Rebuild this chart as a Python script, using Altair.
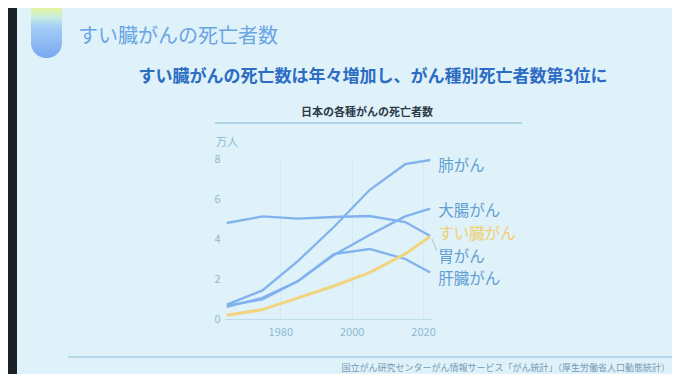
import altair as alt
import pandas as pd

# ---- data (万人) ----
years = [1965, 1975, 1985, 1995, 2005, 2015, 2022]
lung = [0.72, 1.43, 2.91, 4.6, 6.45, 7.74, 7.95]
stomach = [4.8, 5.13, 5.02, 5.1, 5.15, 4.85, 4.15]
colorectal = [0.6, 1.06, 1.9, 3.2, 4.2, 5.13, 5.52]
liver = [0.68, 0.98, 1.9, 3.25, 3.5, 3.0, 2.32]
pancreas = [0.19, 0.47, 1.06, 1.65, 2.32, 3.25, 4.12]

series_names = ["肺がん", "大腸がん", "すい臓がん", "胃がん", "肝臓がん"]
series_values = [lung, colorectal, pancreas, stomach, liver]
label_values = [7.65, 5.4, 4.25, 3.1, 2.0]

x_ticks = [1980, 2000, 2020]
y_ticks = [0, 2, 4, 6, 8]

title_text = "すい臓がんの死亡者数"
subtitle_text = "すい臓がんの死亡数は年々増加し、がん種別死亡者数第3位に"
chart_title_text = "日本の各種がんの死亡者数"
unit_text = "万人"
source_text = "国立がん研究センターがん情報サービス「がん統計」（厚生労働省人口動態統計）"

rows = []
for name, vals in zip(series_names, series_values):
    for yr, v in zip(years, vals):
        rows.append({"name": name, "year": yr, "value": v})
df = pd.DataFrame(rows)
labels_df = pd.DataFrame({"name": series_names, "year": [years[-1]] * 5, "value": label_values})
dummy = pd.DataFrame({"a": [0]})

# ---- layout (page pixel coordinates) ----
OX, OY = 225, 159
W, H = 207, 160
CW, CH = 664, 366


def px(x):
    return x - OX


def py(y):
    return y - OY


FONT = "Noto Sans CJK JP"
BLUE = "#80b3ee"
YELLOW = "#f3d47e"
LABEL_BLUE = "#5f9fd2"
BG = "#dff1f9"
AXIS_LABEL = "#8dbad3"

colors = [BLUE, BLUE, YELLOW, BLUE, BLUE]
label_colors = [LABEL_BLUE, LABEL_BLUE, "#f1cf6c", LABEL_BLUE, LABEL_BLUE]

xscale = alt.Scale(domain=[1964.5, 2022.5], nice=False, zero=False)
yscale = alt.Scale(domain=[0, 8], nice=False)

xaxis = alt.Axis(values=x_ticks, format="d", title=None, ticks=False, labelPadding=7,
                 labelFontSize=11, labelColor=AXIS_LABEL, labelFont=FONT, labelFlush=False,
                 labelOverlap=False,
                 domainColor="#bcdbeb", domainWidth=1, grid=True, gridColor="#d3eaf5",
                 gridWidth=1)
yaxis = alt.Axis(values=y_ticks, title=None, ticks=False, domain=False, grid=False,
                 labelPadding=5, labelFontSize=11, labelColor=AXIS_LABEL, labelFont=FONT,
                 labelOverlap=False, labelFlush=False)

# ---- decorations ----
strip = alt.Chart(dummy).mark_rect(color="#1c2226").encode(
    x=alt.value(px(8)), x2=alt.value(px(17)), y=alt.value(py(8)), y2=alt.value(py(374)))

pill = alt.Chart(dummy).mark_rect(
    cornerRadius=15,
    color=alt.Gradient(gradient="linear", x1=0, x2=0, y1=0, y2=1, stops=[
        alt.GradientStop(color="#e8f6a0", offset=0),
        alt.GradientStop(color="#e0f4a8", offset=0.38),
        alt.GradientStop(color="#c6ede0", offset=0.48),
        alt.GradientStop(color="#a4cdf6", offset=0.6),
        alt.GradientStop(color="#79a8f0", offset=1),
    ])).encode(x=alt.value(px(31)), x2=alt.value(px(62)), y=alt.value(py(-20)), y2=alt.value(py(58)))


def label(text, x, y, size, color, weight="normal", align="left"):
    return alt.Chart(dummy).mark_text(text=text, font=FONT, fontSize=size, color=color,
                                      fontWeight=weight, align=align, baseline="middle").encode(
        x=alt.value(px(x)), y=alt.value(py(y)))


title = label(title_text, 78, 37, 20, "#6aa5e4", "normal")
subtitle = label(subtitle_text, 373, 77, 17, "#2c6cc3", "bold", "center")
chart_title = label(chart_title_text, 367, 113, 11, "#2c3a48", "bold", "center")
unit = label(unit_text, 216, 143, 11, AXIS_LABEL)
source = label(source_text, 670, 368, 9, "#7399b4", "normal", "right")

underline = alt.Chart(dummy).mark_rule(color="#a2cbe2", strokeWidth=1.5).encode(
    x=alt.value(px(215)), x2=alt.value(px(522)), y=alt.value(py(123)))
footer_rule = alt.Chart(dummy).mark_rule(color="#a9d0e6", strokeWidth=1.5).encode(
    x=alt.value(px(68)), x2=alt.value(px(680)), y=alt.value(py(357)))
leader = alt.Chart(dummy).mark_rule(color="#9fb3c2", strokeWidth=0.8).encode(
    x=alt.value(px(432)), x2=alt.value(px(437)), y=alt.value(py(239)), y2=alt.value(py(251)))

# ---- data layers ----
base = alt.Chart(df)
color_enc = alt.Color("name:N", scale=alt.Scale(domain=series_names, range=colors), legend=None)
x_enc = alt.X("year:Q", scale=xscale, axis=xaxis)
y_enc = alt.Y("value:Q", scale=yscale, axis=yaxis)

blue_lines = base.transform_filter(alt.datum.name != "すい臓がん").mark_line(strokeWidth=2.3).encode(
    x=x_enc, y=y_enc, color=color_enc, detail="name:N")

yellow_line = base.transform_filter(alt.datum.name == "すい臓がん").mark_line(strokeWidth=3).encode(
    x=x_enc, y=y_enc, color=color_enc)

series_labels = alt.Chart(labels_df).mark_text(font=FONT, fontSize=15.5, align="left",
                                               baseline="middle", dx=8).encode(
    x=x_enc, y=y_enc,
    text="name:N",
    color=alt.Color("name:N", scale=alt.Scale(domain=series_names, range=label_colors), legend=None))

chart = alt.layer(
    strip, pill, title, subtitle, chart_title, underline, unit, footer_rule, source,
    blue_lines, yellow_line, leader, series_labels
).resolve_scale(color="independent").properties(
    width=W, height=H,
    padding={"left": OX - 8, "top": OY - 8, "right": CW - (OX - 8) - W, "bottom": CH - (OY - 8) - H},
    autosize="none",
).configure(background=BG).configure_view(strokeWidth=0).configure_axis(
    labelOverlap=False, labelFlush=False)

chart.save("out.html", embed_options={"renderer": "svg", "actions": False})
